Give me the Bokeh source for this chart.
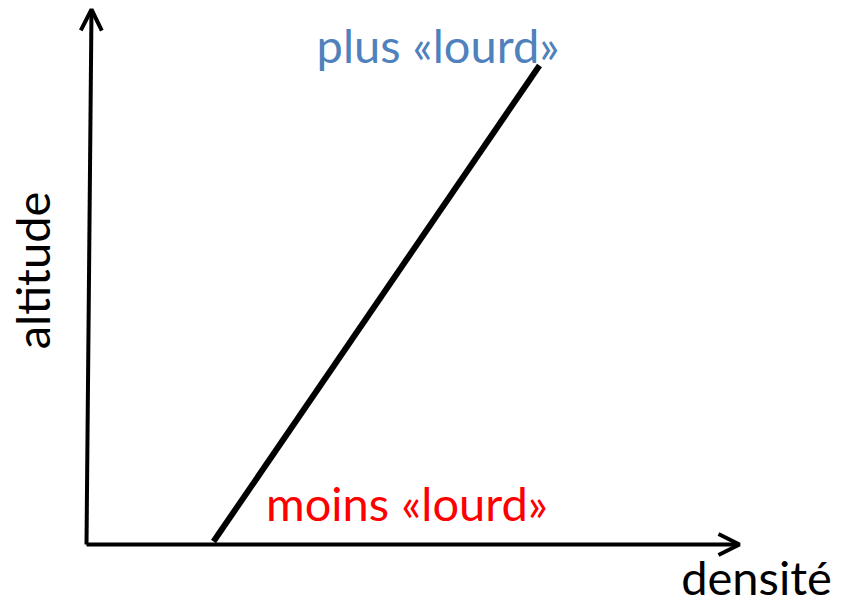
import math
from bokeh.plotting import figure
from bokeh.models import Range1d, Arrow, OpenHead
from bokeh.core.properties import value
from bokeh.embed import file_html
from bokeh.resources import INLINE

# Axes (data units)
x_axis_x = [0.0, 6.53]
x_axis_y = [0.0, 0.0]
y_axis_x = [0.0, 0.05]
y_axis_y = [0.0, 5.35]

# Diagonal relation: densité vs altitude
densite = [1.27, 4.53]
altitude = [0.03, 4.79]

# Labels
label_plus = "plus «lourd»"
label_moins = "moins «lourd»"
label_x = "densité"
label_y = "altitude"

FONT = "Lato"
SIZE = "47px"

p = figure(width=847, height=605, output_backend="svg", toolbar_location=None,
           x_range=Range1d(-0.86, 7.61), y_range=Range1d(-0.61, 5.44),
           min_border=0)
p.axis.visible = False
p.grid.visible = False
p.outline_line_color = None
p.background_fill_color = "white"
p.border_fill_color = "white"

# axes with arrow heads
p.add_layout(Arrow(x_start=x_axis_x[0], y_start=x_axis_y[0], x_end=x_axis_x[1], y_end=x_axis_y[1],
                   line_width=4, line_color="black",
                   end=OpenHead(size=21, line_width=4, line_color="black")))
p.add_layout(Arrow(x_start=y_axis_x[0], y_start=y_axis_y[0], x_end=y_axis_x[1], y_end=y_axis_y[1],
                   line_width=4, line_color="black",
                   end=OpenHead(size=21, line_width=4, line_color="black")))

p.line(densite, altitude, line_width=6, line_color="black")

p.text(x=[3.515], y=[5.00], text=[label_plus], text_font=value(FONT), text_font_size=SIZE,
       text_color="#4f81bd", text_align="center", text_baseline="alphabetic")
p.text(x=[3.205], y=[0.42], text=[label_moins], text_font=value(FONT), text_font_size=SIZE,
       text_color="#ff0000", text_align="center", text_baseline="alphabetic")
p.text(x=[6.70], y=[-0.32], text=[label_x], text_font=value(FONT), text_font_size=SIZE,
       text_color="black", text_align="center", text_baseline="alphabetic")
p.text(x=[-0.55], y=[2.74], text=[label_y], text_font=value(FONT), text_font_size=SIZE,
       text_color="black", text_align="center", text_baseline="alphabetic", angle=math.pi / 2)

open("out.html", "w").write(file_html(p, INLINE))
